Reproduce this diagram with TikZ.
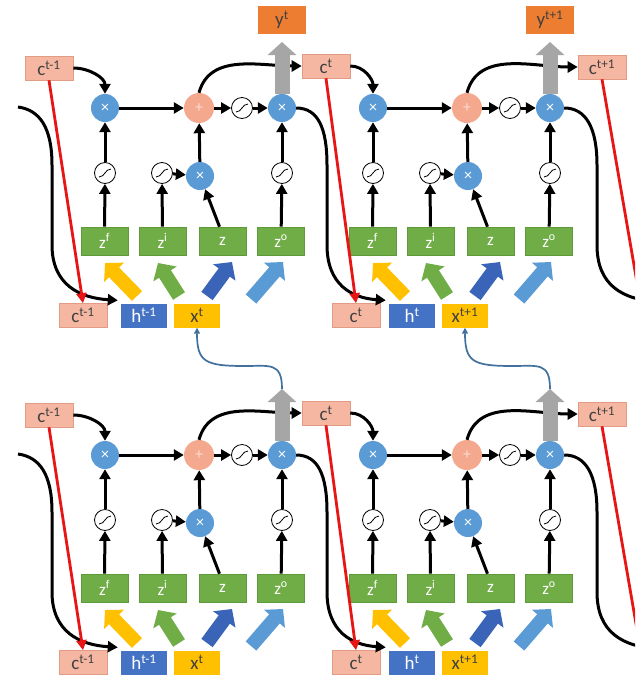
\documentclass[tikz,border=0pt]{standalone}
\usepackage{fontspec}
\setmainfont{Carlito}
\usetikzlibrary{arrows.meta,calc}

\definecolor{cfill}{HTML}{F6B7A2}
\definecolor{cedge}{HTML}{E39C84}
\definecolor{addfill}{HTML}{F4A88E}
\definecolor{mulfill}{HTML}{5B9BD5}
\definecolor{gatefill}{HTML}{70AD47}
\definecolor{gateedge}{HTML}{5E9A3A}
\definecolor{yfill}{HTML}{ED7D31}
\definecolor{hfill}{HTML}{4472C4}
\definecolor{xfill}{HTML}{FFC000}
\definecolor{darkblue}{HTML}{3A64B8}
\definecolor{lightblue}{HTML}{5B9BD5}
\definecolor{graytone}{HTML}{A6A6A6}
\definecolor{linkblue}{HTML}{41719C}
\definecolor{redline}{HTML}{E81515}
\definecolor{txt}{HTML}{404040}

\tikzset{
  x=1pt, y=-1pt,
  cbox/.style={draw=cedge, line width=0.6pt, fill=cfill, minimum width=48pt, minimum height=24pt,
    inner sep=0pt, text=txt, font=\fontsize{19}{20}\selectfont},
  hbox/.style={fill=hfill, minimum width=46pt, minimum height=24pt, inner sep=0pt,
    text=white, font=\fontsize{19}{20}\selectfont},
  xbox/.style={fill=xfill, minimum width=46pt, minimum height=24pt, inner sep=0pt,
    text=txt, font=\fontsize{19}{20}\selectfont},
  ybox/.style={fill=yfill, minimum width=48pt, minimum height=28pt, inner sep=0pt,
    text=txt, font=\fontsize{19}{20}\selectfont},
  gate/.style={draw=gateedge, line width=0.6pt, fill=gatefill, minimum width=47pt, minimum height=28pt,
    inner sep=0pt, text=white, font=\fontsize{17}{18}\selectfont},
  mulop/.style={circle, fill=mulfill, minimum size=28pt, inner sep=0pt, text=white,
    font=\fontsize{16}{16}\selectfont},
  addop/.style={circle, fill=addfill, minimum size=30pt, inner sep=0pt, text=white!60!addfill,
    font=\fontsize{16}{16}\selectfont},
  sigop/.style={circle, draw=black, line width=0.8pt, fill=white, minimum size=21pt, inner sep=0pt,
    path picture={\draw[line width=0.8pt]
      ([shift={(-6,4)}]path picture bounding box.center) .. controls
      ([shift={(0,4)}]path picture bounding box.center) and
      ([shift={(0,-4)}]path picture bounding box.center) ..
      ([shift={(6,-4)}]path picture bounding box.center);}},
  flow/.style={line width=3pt, -{Triangle[length=10pt,width=11pt]}},
  redarrow/.style={line width=2.8pt, draw=redline, -{Triangle[length=10pt,width=10pt]}},
  fat/.style={line width=14pt, -{Triangle[length=13pt,width=27pt]}},
  grayup/.style={line width=15pt, draw=graytone, -{Triangle[length=13pt,width=28pt]}},
  link/.style={line width=1.7pt, draw=linkblue, -{Triangle[length=6pt,width=6pt]}},
}

% One LSTM block: #1 id, #2/#3 shift, #4 incoming cell state node, #5 outgoing cell state node,
% #6 h superscript, #7 x superscript, #8 c superscript, #9 x position of the lower c box
\newcommand\lstmblock[9]{%
\begin{scope}[shift={(#2,#3)}]
  \node[mulop] (fx#1) at (105,108) {×};
  \node[addop] (ad#1) at (199,108) {+};
  \node[sigop] (sc#1) at (242,108) {};
  \node[mulop] (ox#1) at (282,108) {×};
  \node[sigop] (sf#1) at (105,173) {};
  \node[sigop] (si#1) at (162,173) {};
  \node[sigop] (so#1) at (282,173) {};
  \node[mulop] (ix#1) at (200,176) {×};
  \node[gate] (zf#1) at (104.5,241) {z\textsuperscript{f}};
  \node[gate] (zi#1) at (162.5,241) {z\textsuperscript{i}};
  \node[gate] (zz#1) at (222.5,241) {z};
  \node[gate] (zo#1) at (281,241) {z\textsuperscript{o}};
  \node[cbox] (cb#1) at (#9,315.5) {c\textsuperscript{#8}};
  \node[hbox] (hb#1) at (144,315.5) {h\textsuperscript{#6}};
  \node[xbox] (xb#1) at (197,315.5) {x\textsuperscript{#7}};
  % wide input arrows feeding the four gates
  \coordinate (ta#1) at (137,296); \coordinate (pa#1) at (105,263);
  \coordinate (tb#1) at (179,296); \coordinate (pb#1) at (158,263);
  \coordinate (tc#1) at (207,296); \coordinate (pc#1) at (232,262);
  \coordinate (td#1) at (251,299); \coordinate (pd#1) at (283,262);
  \coordinate (gt#1) at (282,42);
\end{scope}
  \draw[fat, draw=xfill] (ta#1) -- (pa#1);
  \draw[fat, draw=gatefill] (tb#1) -- (pb#1);
  \draw[fat, draw=darkblue] (tc#1) -- (pc#1);
  \draw[fat, draw=lightblue] (td#1) -- (pd#1);
  % gate connections
  \draw[flow] (#4.east) to[out=0,in=90] (fx#1.north);
  \draw[flow] (fx#1) -- (ad#1);
  \draw[flow] (ad#1) -- (sc#1);
  \draw[flow] (sc#1) -- (ox#1);
  \draw[flow] (ad#1.north) to[out=75,in=180] (#5.west);
  \draw[flow] (zf#1) -- (sf#1);
  \draw[flow] (sf#1) -- (fx#1);
  \draw[flow] (zi#1) -- (si#1);
  \draw[flow] (si#1) -- (ix#1);
  \draw[flow] ([xshift=-3pt]zz#1.north) -- (ix#1);
  \draw[flow] (ix#1) -- (ad#1);
  \draw[flow] (zo#1) -- (so#1);
  \draw[flow] (so#1) -- (ox#1);
  \draw[grayup] (ox#1.north) -- (gt#1);
}

\begin{document}
\begin{tikzpicture}
\useasboundingbox (0,0) rectangle (635,675);
\fill[white] (0,0) rectangle (635,675);
\clip (0,0) rectangle (635,675);

% ---------------- upper layer ----------------
\node[cbox] (ua) at (49,68) {c\textsuperscript{t-1}};
\node[cbox] (ub) at (326,66) {c\textsuperscript{t}};
\node[cbox] (uc) at (602,67) {c\textsuperscript{t+1}};
\node[ybox] (y1) at (282,20) {y\textsuperscript{t}};
\node[ybox] (y2) at (550,20) {y\textsuperscript{t+1}};

\lstmblock{A}{0}{0}{ua}{ub}{t-1}{t}{t-1}{83}
\lstmblock{B}{268}{0}{ub}{uc}{t}{t+1}{t}{88}

% recurrent hidden state links
\coordinate (inA) at (18,107);
\draw[flow] (inA) .. controls (40,110) and (52,128) .. (52,165) -- (52,245)
  .. controls (52,285) and (80,298) .. ([shift={(-3pt,3pt)}]hbA.north west);
\draw[flow] (oxA.east) .. controls (318,108) and (327,128) .. (327,165) -- (327,245)
  .. controls (327,285) and (352,298) .. ([shift={(-3pt,3pt)}]hbB.north west);
\coordinate (outB) at (660,302);
\draw[line width=3pt] (oxB.east) .. controls (586,108) and (597,128) .. (597,165) -- (597,245)
  .. controls (597,285) and (622,300) .. (outB);

% cell state copies
\draw[redarrow] (ua.south) -- (cbA.north);
\draw[redarrow] (ub.south) -- (cbB.north);
\coordinate (rC) at (640,300);
\draw[line width=2.8pt, draw=redline] (uc.south) -- (rC);

% ---------------- lower layer ----------------
\node[cbox] (la) at (49,415) {c\textsuperscript{t-1}};
\node[cbox] (lb) at (326,413) {c\textsuperscript{t}};
\node[cbox] (lc) at (602,414) {c\textsuperscript{t+1}};

\lstmblock{C}{0}{347}{la}{lb}{t-1}{t}{t-1}{83}
\lstmblock{D}{268}{347}{lb}{lc}{t}{t+1}{t}{88}

\coordinate (inC) at (18,454);
\draw[flow] (inC) .. controls (40,457) and (52,475) .. (52,512) -- (52,592)
  .. controls (52,632) and (80,645) .. ([shift={(-3pt,3pt)}]hbC.north west);
\draw[flow] (oxC.east) .. controls (318,455) and (327,475) .. (327,512) -- (327,592)
  .. controls (327,632) and (352,645) .. ([shift={(-3pt,3pt)}]hbD.north west);
\coordinate (outD) at (660,649);
\draw[line width=3pt] (oxD.east) .. controls (586,455) and (597,475) .. (597,512) -- (597,592)
  .. controls (597,632) and (622,647) .. (outD);

\draw[redarrow] (la.south) -- (cbC.north);
\draw[redarrow] (lb.south) -- (cbD.north);
\coordinate (rF) at (640,647);
\draw[line width=2.8pt, draw=redline] (lc.south) -- (rF);

% outputs of the lower layer feed the inputs of the upper layer
\draw[link] (gtC) .. controls (282,362) and (270,366) .. (245,366)
  .. controls (205,366) and (197,362) .. (xbA.south);
\draw[link] (gtD) .. controls (550,362) and (538,366) .. (513,366)
  .. controls (473,366) and (465,362) .. (xbB.south);
\end{tikzpicture}
\end{document}
